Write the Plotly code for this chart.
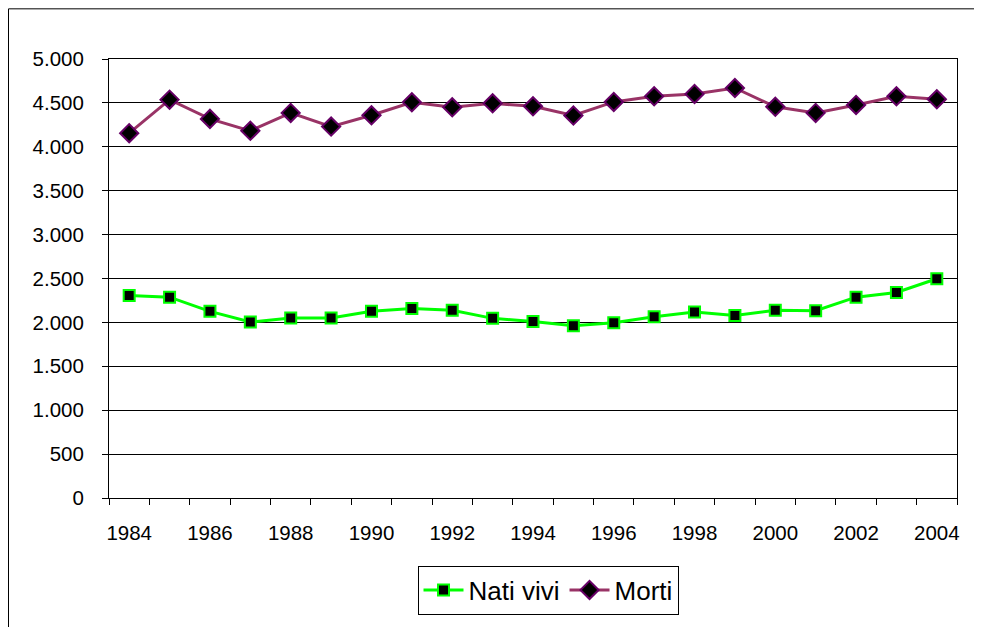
import plotly.graph_objects as go

years = list(range(1984, 2005))
nati_vivi = [2305, 2287, 2126, 2004, 2050, 2050, 2126, 2157, 2138, 2046, 2010,
             1961, 1996, 2065, 2119, 2080, 2138, 2134, 2287, 2341, 2497]
morti = [4155, 4537, 4318, 4182, 4386, 4230, 4359, 4507, 4450, 4495, 4461,
         4356, 4511, 4575, 4602, 4670, 4455, 4386, 4477, 4575, 4541]
year_labels = [str(y) for y in range(1984, 2005, 2)]
y_ticks = list(range(0, 5001, 500))

fig = go.Figure()
fig.add_trace(go.Scatter(
    x=years, y=nati_vivi, name="Nati vivi", mode="lines+markers",
    line=dict(color="#00FF00", width=3),
    marker=dict(symbol="square", size=11, color="black",
                line=dict(color="#00FF00", width=2)),
))
fig.add_trace(go.Scatter(
    x=years, y=morti, name="Morti", mode="lines+markers",
    line=dict(color="#993366", width=3),
    marker=dict(symbol="diamond", size=14, color="black",
                line=dict(color="#660066", width=2)),
))

# page body has an 8px margin, so the figure starts at (8, 8)
OFF = 8
W, H = 982 - OFF, 627 - OFF
L, T = 109 - OFF, 59 - OFF
R = 982 - 957
B = 627 - 501
pw, ph = W - L - R, H - T - B

fig.update_layout(
    width=W, height=H,
    margin=dict(l=L, r=R, t=T, b=B, pad=0),
    paper_bgcolor="white", plot_bgcolor="white",
    separators=",.",
    font=dict(family="Liberation Sans, Arial, sans-serif", size=20.5, color="black"),
    showlegend=True,
    legend=dict(orientation="h", x=(548 - 109) / pw, xanchor="center",
                y=(501 - 569) / ph, yanchor="top",
                bordercolor="black", borderwidth=1, bgcolor="white",
                font=dict(size=26), itemwidth=40, tracegroupgap=0),
    xaxis=dict(
        range=[1983.5, 2004.5], tickmode="array", tickvals=[int(v) for v in year_labels],
        ticktext=year_labels, ticks="", showgrid=False, zeroline=False,
        showline=True, linecolor="black", linewidth=1, mirror=True,
        ticklabelstandoff=16,
        minor=dict(tick0=1983.5, dtick=1, ticks="outside", ticklen=6,
                   tickcolor="black", showgrid=False),
    ),
    yaxis=dict(
        range=[0, 5000], tickmode="array", tickvals=y_ticks, tickformat=",d",
        ticks="outside", ticklen=6, tickcolor="black",
        showgrid=True, gridcolor="black", gridwidth=1, zeroline=False,
        showline=True, linecolor="black", linewidth=1, mirror=True,
        ticklabelstandoff=14,
    ),
)

# outer chart border (page x 8..980, top at page y ~7, bottom off-page)
x0 = (0.5 - L) / pw
x1 = (980 - OFF - L) / pw
y1 = (H - B - 0.5) / ph
y0 = (H - B - 700) / ph
fig.add_shape(type="rect", xref="paper", yref="paper", x0=x0, x1=x1, y0=y0, y1=y1,
              line=dict(color="black", width=1), fillcolor="rgba(0,0,0,0)", layer="below")

fig.write_html("out.html")
